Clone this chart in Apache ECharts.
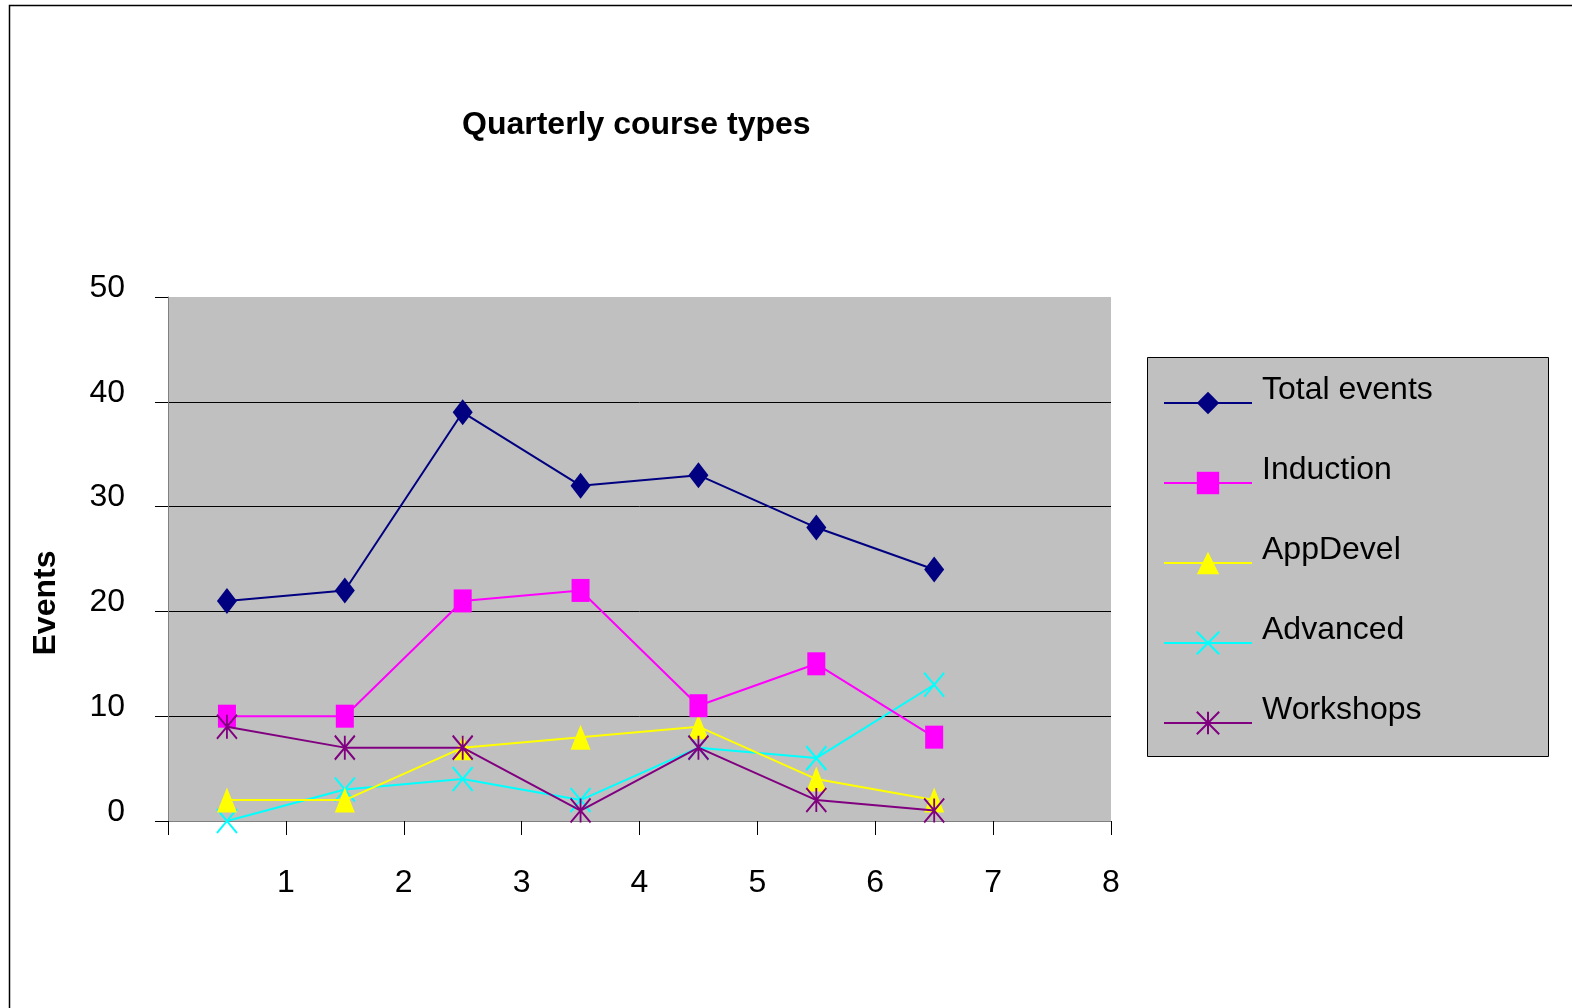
<!DOCTYPE html>
<html>
<head>
<meta charset="utf-8">
<script src="https://cdn.jsdelivr.net/npm/echarts@6/dist/echarts.min.js"></script>
<style>
html,body{margin:0;padding:0;background:#fff;}
#chart{width:1572px;height:1008px;}
</style>
</head>
<body>
<div id="chart"></div>
<script>
const titleText = 'Quarterly course types';
const yAxisTitle = 'Events';
const xPositions = [0.5, 1.5, 2.5, 3.5, 4.5, 5.5, 6.5];
const totalEvents = [21, 22, 39, 32, 33, 28, 24];
const induction = [10, 10, 21, 22, 11, 15, 8];
const appDevel = [2, 2, 7, 8, 9, 4, 2];
const advanced = [0, 3, 4, 2, 7, 6, 13];
const workshops = [9, 7, 7, 1, 7, 2, 1];

const FONT = 'Liberation Sans, Arial, sans-serif';
const pairs = arr => arr.map((v, i) => [xPositions[i], v]);

const crossPath = 'path://M0,0L10,10M10,0L0,10';
const starPath = 'path://M0,0L10,10M10,0L0,10M5,0L5,10';

const chart = echarts.init(document.getElementById('chart'), null, {renderer: 'canvas'});
chart.setOption({
  backgroundColor: '#fff',
  animation: false,
  title: {
    text: titleText,
    left: 462, top: 110, padding: 0,
    textStyle: {fontFamily: FONT, fontWeight: 'bold', fontSize: 32, lineHeight: 30, color: '#000'}
  },
  graphic: [
    {type: 'rect', z: -10, shape: {x: 9.5, y: 5.5, width: 1700, height: 1100},
     style: {fill: 'none', stroke: '#000', lineWidth: 1.5}},
    {type: 'rect', z: 0, shape: {x: 1147.5, y: 357.5, width: 401, height: 399},
     style: {fill: '#C0C0C0', stroke: '#000', lineWidth: 1}},
    {type: 'text', x: 46, y: 603, rotation: Math.PI / 2,
     style: {text: yAxisTitle, font: 'bold 32px Liberation Sans, Arial, sans-serif', fill: '#000',
             textAlign: 'center', textVerticalAlign: 'middle'}}
  ],
  legend: {
    orient: 'vertical', left: 1163, top: 374, padding: 0,
    itemWidth: 88, itemHeight: 28, itemGap: 31,
    selectedMode: false, z: 10,
    formatter: '{t|{name}}\n{s| }',
    textStyle: {
      fontFamily: FONT, fontSize: 32, color: '#000',
      rich: {
        t: {fontFamily: FONT, fontSize: 32, lineHeight: 30, color: '#000', padding: [0, 0, 0, 5]},
        s: {fontSize: 10, lineHeight: 26}
      }
    }
  },
  grid: {
    left: 168, top: 297, right: 461, bottom: 187,
    show: true, backgroundColor: '#C0C0C0', borderWidth: 0
  },
  xAxis: {
    type: 'value', min: 0, max: 8, interval: 1,
    axisLine: {show: true, lineStyle: {color: '#808080', width: 1}},
    axisTick: {show: true, length: 14, lineStyle: {color: '#000'}},
    splitLine: {show: false},
    axisLabel: {
      margin: 47, fontFamily: FONT, fontSize: 32, lineHeight: 30, color: '#000',
      formatter: v => (v === 0 ? '' : String(v))
    }
  },
  yAxis: {
    type: 'value', min: 0, max: 50, interval: 10,
    axisLine: {show: true, lineStyle: {color: '#808080', width: 1}},
    axisTick: {show: true, length: 13, lineStyle: {color: '#000'}},
    splitLine: {show: true, showMinLine: false, showMaxLine: false, lineStyle: {color: '#000', width: 1}},
    axisLabel: {margin: 43, fontFamily: FONT, fontSize: 32, lineHeight: 18, verticalAlign: 'bottom', color: '#000'}
  },
  series: [
    {name: 'Total events', type: 'line', data: pairs(totalEvents), color: '#000080',
     symbol: 'diamond', symbolSize: [20, 26], lineStyle: {width: 2}, z: 5},
    {name: 'Induction', type: 'line', data: pairs(induction), color: '#FF00FF',
     symbol: 'rect', symbolSize: [18, 23], lineStyle: {width: 2}, z: 4},
    {name: 'AppDevel', type: 'line', data: pairs(appDevel), color: '#FFFF00',
     symbol: 'triangle', symbolSize: [20, 25], lineStyle: {width: 2}, z: 3},
    {name: 'Advanced', type: 'line', data: pairs(advanced), color: '#00FFFF',
     symbol: crossPath, symbolSize: [20, 24], lineStyle: {width: 2},
     itemStyle: {borderColor: '#00FFFF', borderWidth: 2}, z: 2},
    {name: 'Workshops', type: 'line', data: pairs(workshops), color: '#800080',
     symbol: starPath, symbolSize: [20, 24], lineStyle: {width: 2},
     itemStyle: {borderColor: '#800080', borderWidth: 2}, z: 6}
  ]
});
</script>
</body>
</html>
